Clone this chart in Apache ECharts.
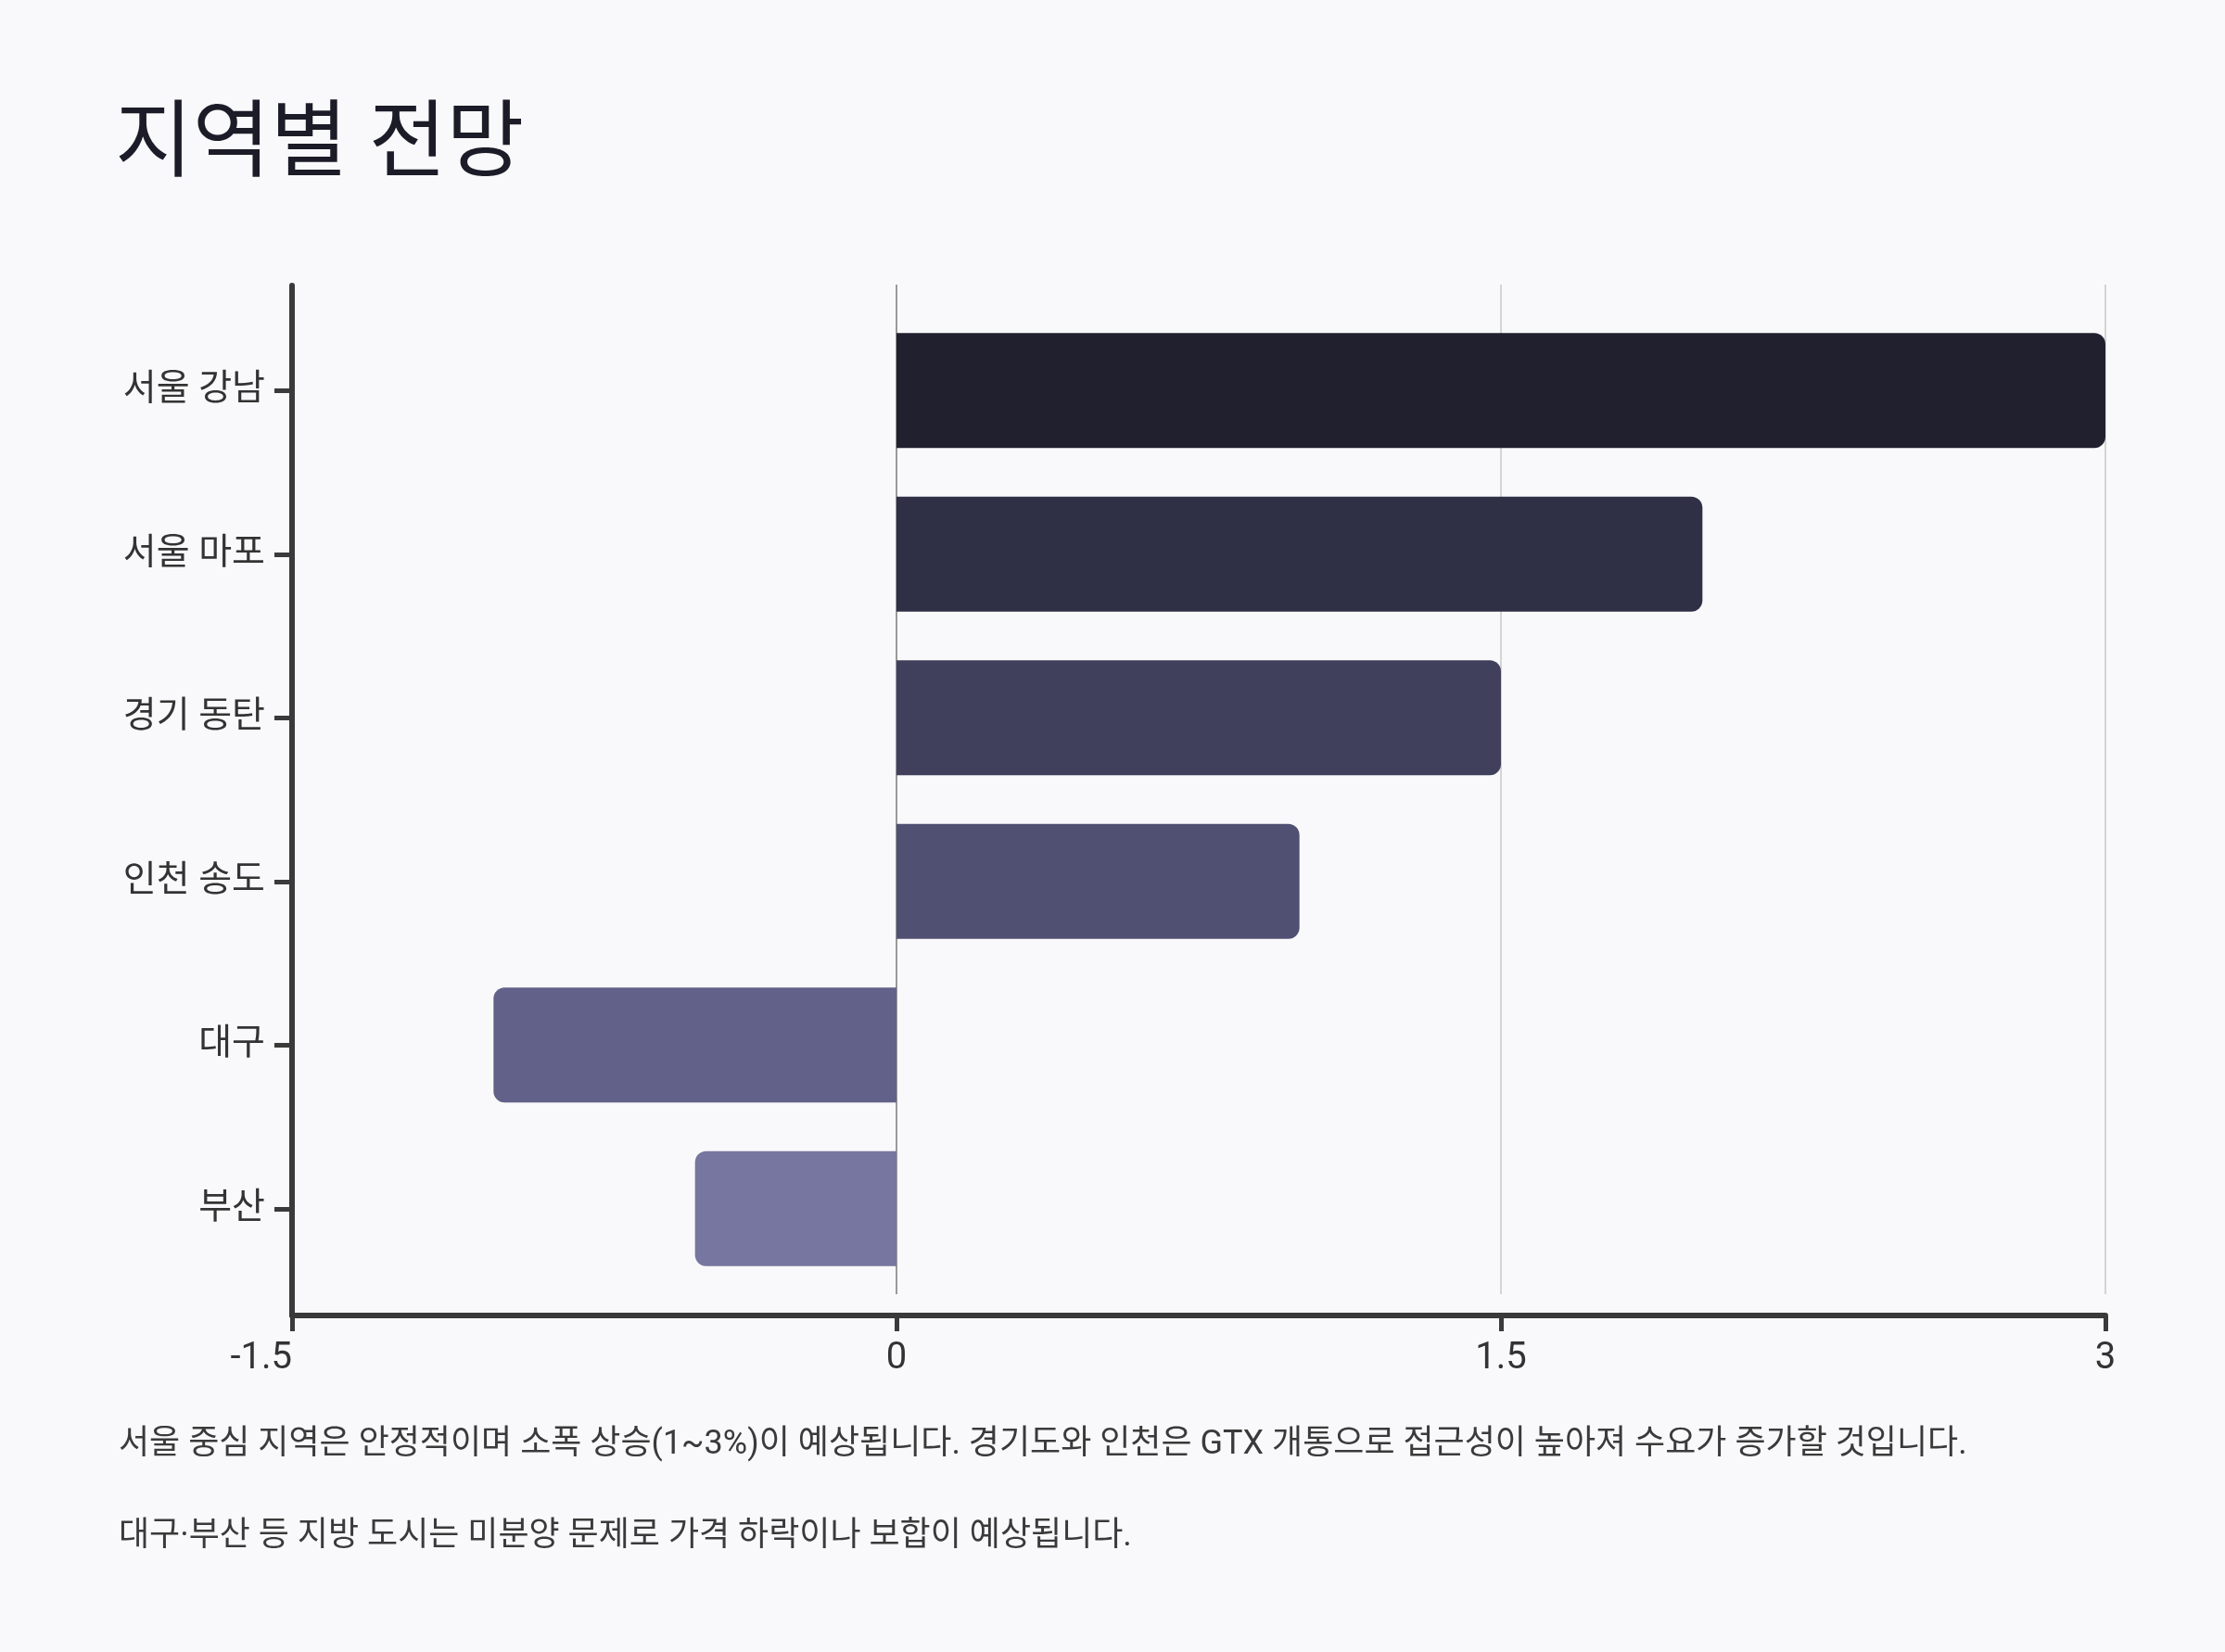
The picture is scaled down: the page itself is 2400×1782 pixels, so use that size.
<!DOCTYPE html>
<html>
<head>
<meta charset="utf-8">
<script src="https://cdn.jsdelivr.net/npm/echarts@6/dist/echarts.min.js"></script>
<style>
  html, body { margin: 0; padding: 0; background: #f9f9fb; }
  #chart { width: 2400px; height: 1782px; }
</style>
</head>
<body>
<div id="chart"></div>
<script>
// ---- data ----
const chartTitle = '지역별 전망';
const categories = ['서울 강남', '서울 마포', '경기 동탄', '인천 송도', '대구', '부산'];
const values = [3.0, 2.0, 1.5, 1.0, -1.0, -0.5];
const xMin = -1.5;
const xMax = 3;
const xInterval = 1.5;
const notes = [
  '서울 중심 지역은 안정적이며 소폭 상승(1~3%)이 예상됩니다. 경기도와 인천은 GTX 개통으로 접근성이 높아져 수요가 증가할 것입니다.',
  '대구·부산 등 지방 도시는 미분양 문제로 가격 하락이나 보합이 예상됩니다.'
];

// ---- styles ----
const barColors = ['#20202e', '#2f2f45', '#40405c', '#505073', '#626189', '#7776a0'];
const FONT = "Roboto, 'Noto Sans CJK KR', sans-serif";
const axisColor = '#3a3a3a';
const radius = 12;

const chart = echarts.init(document.getElementById('chart'), null, { renderer: 'canvas' });

const seriesData = values.map((v, i) => ({
  value: v,
  itemStyle: {
    color: barColors[i],
    borderRadius: v >= 0 ? [0, radius, radius, 0] : [radius, 0, 0, radius]
  }
}));

const option = {
  backgroundColor: '#f9f9fb',
  animation: false,
  title: [
    {
      text: chartTitle,
      left: 119, top: 110,
      textStyle: { fontFamily: FONT, fontSize: 91, fontWeight: 'normal', color: '#1c1c28' }
    },
    {
      text: notes[0],
      left: 123, top: 1536,
      textStyle: { fontFamily: FONT, fontSize: 36, fontWeight: 'normal', color: '#3a3a3a' }
    },
    {
      text: notes[1],
      left: 123, top: 1635,
      textStyle: { fontFamily: FONT, fontSize: 36, fontWeight: 'normal', color: '#3a3a3a' }
    }
  ],
  grid: [
    // frame (axis lines)
    { left: 315, right: 129, top: 308, bottom: 1782 - 1419, containLabel: false },
    // bars
    { left: 315, right: 129, top: 333, bottom: 1782 - 1392, containLabel: false },
    // split lines
    { left: 315, right: 129, top: 307, bottom: 1782 - 1396, containLabel: false }
  ],
  xAxis: [
    {
      gridIndex: 0, type: 'value', min: xMin, max: xMax, interval: xInterval,
      axisLine: { show: true, onZero: false, lineStyle: { color: axisColor, width: 6 } },
      axisTick: { show: true, length: 17, lineStyle: { color: axisColor, width: 5 } },
      axisLabel: { show: true, margin: 27, fontFamily: FONT, fontSize: 40, color: '#333333', alignMinLabel: 'right' },
      splitLine: { show: false }
    },
    {
      gridIndex: 1, type: 'value', min: xMin, max: xMax, interval: xInterval,
      axisLine: { show: false }, axisTick: { show: false }, axisLabel: { show: false },
      splitLine: { show: false }
    },
    {
      gridIndex: 2, type: 'value', min: xMin, max: xMax, interval: xInterval,
      axisLine: { show: false }, axisTick: { show: false }, axisLabel: { show: false },
      splitLine: {
        show: true,
        lineStyle: { color: ['#d4d4d4', '#9a9a9a', '#d4d4d4', '#d4d4d4'], width: 2 }
      }
    }
  ],
  yAxis: [
    {
      gridIndex: 0, type: 'value', min: 0, max: 1, position: 'left',
      axisLine: { show: true, onZero: false, lineStyle: { color: axisColor, width: 6 } },
      axisTick: { show: false }, axisLabel: { show: false }, splitLine: { show: false }
    },
    {
      gridIndex: 1, type: 'category', inverse: true, data: categories, position: 'left',
      axisLine: { show: false, onZero: false },
      axisTick: { show: true, alignWithLabel: true, length: 19, lineStyle: { color: axisColor, width: 5 } },
      axisLabel: { show: true, margin: 29, fontFamily: FONT, fontSize: 39, color: '#333333', padding: [6, 0, 0, 0] },
      splitLine: { show: false }
    },
    {
      gridIndex: 2, type: 'value', min: 0, max: 1,
      axisLine: { show: false, onZero: false }, axisTick: { show: false },
      axisLabel: { show: false }, splitLine: { show: false }
    }
  ],
  series: [
    {
      type: 'bar',
      xAxisIndex: 1,
      yAxisIndex: 1,
      data: seriesData,
      barWidth: 124,
      z: 3
    }
  ]
};

chart.setOption(option);
</script>
</body>
</html>
